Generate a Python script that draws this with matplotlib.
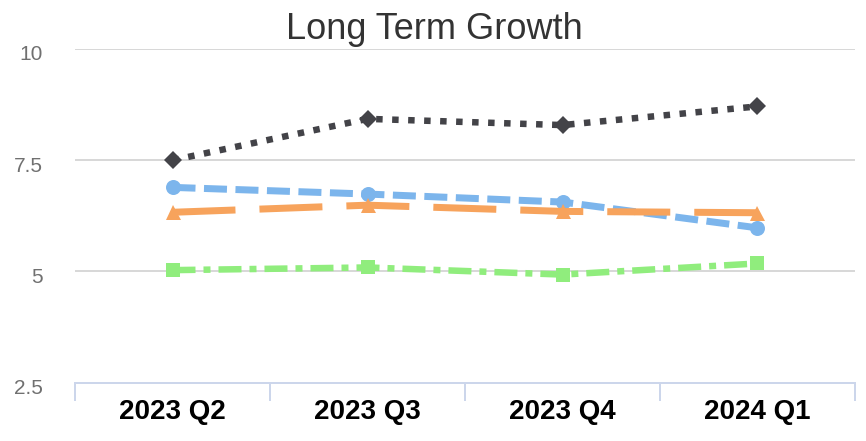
import matplotlib
matplotlib.use("Agg")
import matplotlib.pyplot as plt
import matplotlib.transforms as mtransforms
from matplotlib.ticker import FixedLocator

plt.rcParams['font.family'] = ['Liberation Sans', 'DejaVu Sans']
plt.rcParams['lines.scale_dashes'] = False

categories = ["2023 Q2", "2023 Q3", "2023 Q4", "2024 Q1"]
series_blue = [6.89, 6.74, 6.56, 5.98]
series_black = [7.50, 8.43, 8.29, 8.71]
series_green = [5.03, 5.09, 4.93, 5.18]
series_orange = [6.33, 6.49, 6.35, 6.32]
y_ticks = [2.5, 5, 7.5, 10]
y_tick_labels = ["2.5", "5", "7.5", "10"]
title = "Long Term Growth"

W, H = 866, 441
fig = plt.figure(figsize=(W / 100, H / 100), dpi=100)
ax = fig.add_axes([75 / W, (H - 382.7) / H, (855 - 75) / W, (382.7 - 49) / H])

x = list(range(len(categories)))
px = 0.72  # points per pixel

def draw(vals, color, lw_px, dashes_px, marker, ms_px):
    ln, = ax.plot(x, vals, color=color, lw=lw_px * px, marker=marker,
                  markersize=ms_px * px, markeredgewidth=0, zorder=3,
                  solid_capstyle='butt', dash_capstyle='butt')
    ln.set_dashes([d * px for d in dashes_px])
    return ln

draw(series_blue, '#7cb5ec', 7, [23, 8.5], 'o', 15)
draw(series_black, '#434348', 6.5, [6.5, 9.5], 'D', 13)
draw(series_green, '#90ed7d', 6.5, [23, 8, 7, 8], 's', 14)
draw(series_orange, '#f7a35c', 7, [63, 24], '^', 15)

ax.set_xlim(-0.5, len(categories) - 0.5)
ax.set_ylim(2.5, 10)

ax.set_yticks(y_ticks)
ax.set_yticklabels(y_tick_labels)
ax.set_xticks(x)
ax.set_xticklabels(categories)
ax.xaxis.set_minor_locator(FixedLocator([i - 0.5 for i in range(len(categories) + 1)]))

for s in ['top', 'right', 'left']:
    ax.spines[s].set_visible(False)
ax.spines['bottom'].set_color('#ccd6eb')
ax.spines['bottom'].set_linewidth(2 * px)
ax.spines['bottom'].set_zorder(4)

ax.yaxis.grid(True, color='#cccccc', lw=1.5 * px)
ax.set_axisbelow(True)

ax.tick_params(axis='y', length=0, pad=23, labelsize=15, labelcolor='#707070')
ax.tick_params(axis='x', which='major', length=0, pad=12, labelsize=20)
ax.tick_params(axis='x', which='minor', length=13, width=2 * px, color='#ccd6eb', direction='out')
for lab in ax.get_xticklabels():
    lab.set_fontweight('bold')
    lab.set_color('#000000')

offset = mtransforms.ScaledTranslation(0, -4 / 100, fig.dpi_scale_trans)
for lab in ax.get_yticklabels():
    lab.set_transform(lab.get_transform() + offset)

fig.text(434 / W, (H - 39) / H, title, ha='center', va='baseline',
         fontsize=26, color='#333333')

fig.savefig("out.png", dpi=100)
